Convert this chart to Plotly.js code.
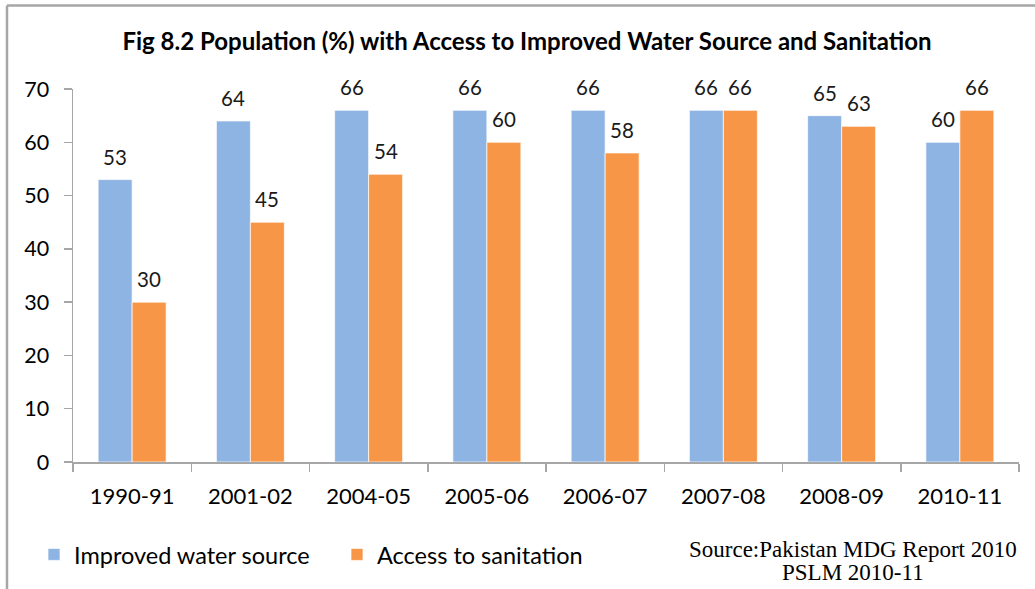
<!DOCTYPE html>
<html>
<head>
<meta charset="utf-8">
<script src="https://cdn.plot.ly/plotly-3.0.1.min.js"></script>
<style>
html,body{margin:0;padding:0;background:#fff;}
#chart{width:1035px;height:589px;}
</style>
</head>
<body>
<div id="chart"></div>
<script>
const categories = ["1990-91","2001-02","2004-05","2005-06","2006-07","2007-08","2008-09","2010-11"];
const waterValues = [53, 64, 66, 66, 66, 66, 65, 60];
const sanitationValues = [30, 45, 54, 60, 58, 66, 63, 66];
const yTicks = [0, 10, 20, 30, 40, 50, 60, 70];
const seriesNames = ["Improved water source", "Access to sanitation"];
const titleText = "Fig 8.2 Population (%) with Access to Improved Water Source and Sanitation";
const sourceLines = ["Source:Pakistan MDG Report 2010", "PSLM 2010-11"];

const blue = "#8EB4E3", orange = "#F79646";
const font = "Lato, 'Open Sans', sans-serif";
const barHalf = 17;

const traces = [
  {type:"bar", name:seriesNames[0], x:categories, y:waterValues,
   marker:{color:blue, line:{color:"rgba(255,255,255,0.7)", width:1}}, hoverinfo:"none"},
  {type:"bar", name:seriesNames[1], x:categories, y:sanitationValues,
   marker:{color:orange, line:{color:"rgba(255,255,255,0.7)", width:1}}, hoverinfo:"none"}
];

const annotations = [];
categories.forEach((c,i)=>{
  annotations.push({x:c, y:waterValues[i], xref:"x", yref:"y", text:String(waterValues[i]),
    showarrow:false, xshift:-barHalf, yshift:9, yanchor:"bottom",
    font:{family:font, size:20.5, color:"#1a1a1a"}});
  annotations.push({x:c, y:sanitationValues[i], xref:"x", yref:"y", text:String(sanitationValues[i]),
    showarrow:false, xshift:barHalf, yshift:9, yanchor:"bottom",
    font:{family:font, size:20.5, color:"#1a1a1a"}});
});
const sourceY = [552, 575];
sourceLines.forEach((t,i)=>{
  annotations.push({xref:"paper", yref:"paper", x:(853-73)/946, y:(464-sourceY[i])/375,
    text:t, showarrow:false, xanchor:"center", yanchor:"middle", align:"center",
    font:{family:"'Liberation Serif', 'Times New Roman', serif", size:23, color:"#000"}});
});

const layout = {
  width:1035, height:589,
  margin:{l:73, r:16, t:89, b:125},
  paper_bgcolor:"#fff", plot_bgcolor:"#fff",
  title:{text:"<b>"+titleText+"</b>", x:527/1035, xanchor:"center", y:1-42/589, yanchor:"middle",
    font:{family:font, size:24, color:"#000"}},
  barmode:"group", bargap:0.425, bargroupgap:0,
  showlegend:true,
  legend:{orientation:"h", x:(34-73)/946, xanchor:"left", y:(464-535)/375, yanchor:"top",
    font:{family:font, size:23.5, color:"#000"}, entrywidth:258, entrywidthmode:"pixels",
    bgcolor:"rgba(0,0,0,0)"},
  xaxis:{type:"category", showline:true, linecolor:"#A6A6A6", linewidth:1.5,
    ticks:"outside", tickson:"boundaries", ticklen:8, tickcolor:"#A6A6A6", tickwidth:1.5,
    showgrid:false, zeroline:false, ticklabelstandoff:14,
    tickfont:{family:font, size:22, color:"#000"}},
  yaxis:{range:[0,70], tickvals:yTicks, ticktext:yTicks.map(String), showline:true, linecolor:"#A6A6A6", linewidth:1.5,
    ticks:"outside", ticklen:8, tickcolor:"#A6A6A6", tickwidth:1.5, showgrid:false, zeroline:false,
    ticklabelstandoff:10, tickfont:{family:font, size:21.5, color:"#000"}},
  annotations:annotations,
  shapes:[
    {type:"line", xref:"paper", yref:"paper", x0:(7-73)/946, x1:(7-73)/946, y0:(464-5)/375, y1:(464-600)/375,
      line:{color:"#A6A6A6", width:2.5}},
    {type:"line", xref:"paper", yref:"paper", x0:(7-73)/946, x1:(1040-73)/946, y0:(464-5)/375, y1:(464-5)/375,
      line:{color:"#A6A6A6", width:2.5}}
  ]
};

Plotly.newPlot("chart", traces, layout, {displayModeBar:false, staticPlot:true});
</script>
</body>
</html>
